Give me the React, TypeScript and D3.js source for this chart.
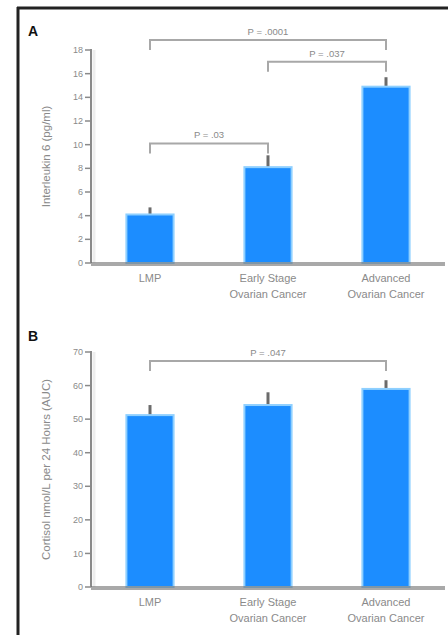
import * as d3 from 'd3';

const categories = ['LMP', 'Early Stage|Ovarian Cancer', 'Advanced|Ovarian Cancer'];

// panel A - interleukin 6
const il6Values = [4.1, 8.1, 14.9];
const il6Errors = [0.6, 1.0, 0.8];
const il6Ticks = [0, 2, 4, 6, 8, 10, 12, 14, 16, 18];
const il6Brackets = [
  { from: 0, to: 2, level: 18.85, label: 'P = .0001' },
  { from: 1, to: 2, level: 17.0, label: 'P = .037' },
  { from: 0, to: 1, level: 10.1, label: 'P = .03' },
];

// panel B - cortisol
const cortisolValues = [51.2, 54.2, 59.0];
const cortisolErrors = [3.0, 3.8, 2.6];
const cortisolTicks = [0, 10, 20, 30, 40, 50, 60, 70];
const cortisolBrackets = [{ from: 0, to: 2, level: 67.3, label: 'P = .047' }];

const FONT = '"Liberation Sans", Arial, sans-serif';
const TEXT = '#8a8a8a';

interface PanelProps {
  letter: string;
  letterY: number;
  yLabel: string;
  values: number[];
  errors: number[];
  ticks: number[];
  brackets: { from: number; to: number; level: number; label: string }[];
  top: number;
  bottom: number;
}

function Panel({ letter, letterY, yLabel, values, errors, ticks, brackets, top, bottom }: PanelProps) {
  const left = 91;
  const right = 445;
  const y = d3.scaleLinear().domain([0, ticks[ticks.length - 1]]).range([bottom, top]);
  const x = d3.scaleBand<string>().domain(categories).range([left, right]).paddingInner(0.6).paddingOuter(0.3);
  const cx = (i: number) => (x(categories[i]) ?? 0) + x.bandwidth() / 2;

  return (
    <g fontFamily={FONT}>
      <text x={28} y={letterY} fontSize={14} fontWeight={700} fill="#111">{letter}</text>

      {/* y axis */}
      <line x1={left + 3} x2={left + 3} y1={top} y2={bottom} stroke="#eee" strokeWidth={3} />
      <line x1={left} x2={left} y1={top - 1} y2={bottom} stroke="#8a8a8a" strokeWidth={2} />
      {ticks.map(t => (
        <g key={t}>
          <line x1={left - 6} x2={left} y1={y(t)} y2={y(t)} stroke="#8a8a8a" strokeWidth={1.5} />
          <text x={left - 8} y={y(t)} dy="0.35em" textAnchor="end" fontSize={9} fill={TEXT}>{t}</text>
        </g>
      ))}
      <text
        transform={`translate(50, ${(top + bottom) / 2}) rotate(-90)`}
        textAnchor="middle"
        fontSize={11.5}
        fill={TEXT}
      >{yLabel}</text>

      {/* bars */}
      {values.map((v, i) => (
        <g key={i}>
          <line x1={cx(i)} x2={cx(i)} y1={y(v)} y2={y(v + errors[i])} stroke="#6b6b6b" strokeWidth={3} />
          <rect
            x={x(categories[i])}
            y={y(v)}
            width={x.bandwidth()}
            height={bottom - y(v)}
            fill="#1c8dff"
            stroke="#8fd0ff"
            strokeWidth={2}
          />
        </g>
      ))}

      {/* x axis */}
      <line x1={left} x2={right} y1={bottom + 1} y2={bottom + 1} stroke="#707070" strokeOpacity={0.6} strokeWidth={4} />
      {categories.map((c, i) => (
        <text key={c} x={cx(i)} y={bottom + 19} textAnchor="middle" fontSize={11} fill={TEXT}>
          {c.split('|').map((line, j) => (
            <tspan key={j} x={cx(i)} dy={j === 0 ? 0 : 16}>{line}</tspan>
          ))}
        </text>
      ))}

      {/* significance brackets */}
      {brackets.map((b, i) => {
        const ly = y(b.level);
        const x1 = cx(b.from);
        const x2 = cx(b.to);
        return (
          <g key={i}>
            <path
              d={`M${x1},${ly + 10}V${ly}H${x2}V${ly + 10}`}
              fill="none"
              stroke="#a8a8a8"
              strokeWidth={2}
            />
            <text x={(x1 + x2) / 2} y={ly - 5} textAnchor="middle" fontSize={9.5} fill={TEXT}>{b.label}</text>
          </g>
        );
      })}
    </g>
  );
}

export default function App() {
  return (
    <svg
      width={448}
      height={635}
      style={{ position: 'absolute', left: 0, top: 0, background: '#fff' }}
    >
      <rect width={448} height={635} fill="#fff" />
      <line x1={18} x2={18} y1={7} y2={635} stroke="#222" strokeWidth={3} />
      <line x1={17} x2={448} y1={8} y2={8} stroke="#222" strokeWidth={3} />
      <Panel
        letter="A"
        letterY={36}
        yLabel="Interleukin 6 (pg/ml)"
        values={il6Values}
        errors={il6Errors}
        ticks={il6Ticks}
        brackets={il6Brackets}
        top={50}
        bottom={263}
      />
      <Panel
        letter="B"
        letterY={341}
        yLabel="Cortisol nmol/L per 24 Hours (AUC)"
        values={cortisolValues}
        errors={cortisolErrors}
        ticks={cortisolTicks}
        brackets={cortisolBrackets}
        top={352}
        bottom={587}
      />
    </svg>
  );
}
